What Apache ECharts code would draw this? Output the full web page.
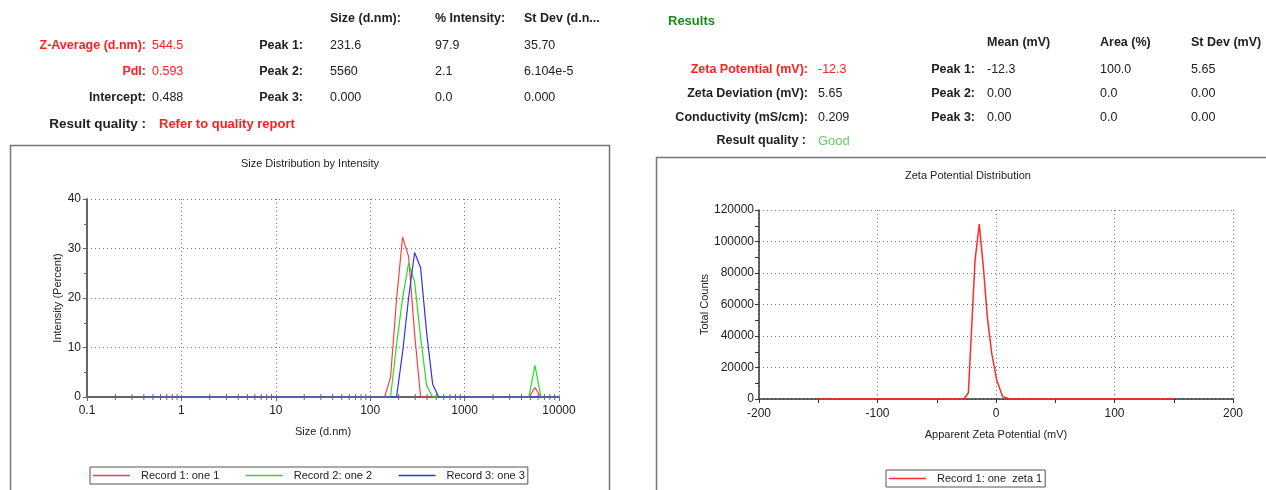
<!DOCTYPE html>
<html>
<head>
<meta charset="utf-8">
<script src="https://cdn.jsdelivr.net/npm/echarts@6/dist/echarts.min.js"></script>
<style>
html,body{margin:0;padding:0;background:#fff;}
#c{width:1266px;height:490px;}
</style>
</head>
<body>
<div id="c"></div>
<script>
// ---------- data ----------
var sizeTicksMinor = [0.2,0.3,0.4,0.5,0.6,0.7,0.8,0.9,2,3,4,5,6,7,8,9,20,30,40,50,60,70,80,90,200,300,400,500,600,700,800,900,2000,3000,4000,5000,6000,7000,8000,9000];
var record1 = [[0.4,0],[141.8,0],[164.2,3.9],[190.1,19.7],[220.2,32.3],[255,28.4],[295.3,12.8],[342,0],[4801,0],[5560,1.9],[6439,0],[10000,0]];
var record2 = [[0.4,0],[164.2,0],[190.1,10.5],[220.2,20],[255,27],[295.3,23.3],[342,12],[396.1,2.3],[458.7,0],[4801,0],[5560,6.4],[6439,0],[10000,0]];
var record3 = [[0.4,0],[190.1,0],[220.2,9],[255,20],[295.3,29.2],[342,26.1],[396.1,13],[458.7,2.6],[531.2,0],[10000,0]];
var zetaRecord = [[-150,0],[-27,0],[-23.3,4000],[-17.7,88000],[-14.1,111000],[-10.7,84000],[-7.3,52000],[-3.6,29000],[0.6,12000],[5.6,1500],[11.8,0],[150,0]];
var sizeNames = ['Record 1: one 1','Record 2: one 2','Record 3: one 3'];
var sizeColors = ['#ff4040','#22dd22','#3030ee'];
var zetaName = 'Record 1: one  zeta 1';
var zetaColor = '#ff2a2a';

// ---------- header tables ----------
var leftHeaders = ['Size (d.nm):','% Intensity:','St Dev (d.n...'];
var leftLabels = ['Z-Average (d.nm):','PdI:','Intercept:'];
var leftValues = ['544.5','0.593','0.488'];
var leftPeaks = ['Peak 1:','Peak 2:','Peak 3:'];
var leftPeakVals = [['231.6','97.9','35.70'],['5560','2.1','6.104e-5'],['0.000','0.0','0.000']];
var rightHeaders = ['Mean (mV)','Area (%)','St Dev (mV)'];
var rightLabels = ['Zeta Potential (mV):','Zeta Deviation (mV):','Conductivity (mS/cm):'];
var rightValues = ['-12.3','5.65','0.209'];
var rightPeaks = ['Peak 1:','Peak 2:','Peak 3:'];
var rightPeakVals = [['-12.3','100.0','5.65'],['0.00','0.0','0.00'],['0.00','0.0','0.00']];

var FONT = 'Liberation Sans, Arial, sans-serif';
var RED = '#ff2020', DARK = '#222';
var g = [];
function txt(t, x, y, o) {
  o = o || {};
  g.push({type:'text', z:10, style:{text:t, x:x, y:y, fill:o.fill||DARK, fontSize:o.size||12.5,
    fontWeight:o.bold?'bold':'normal', fontFamily:FONT, align:o.align||'left', verticalAlign:'middle'}});
}
// left table
var lcol = [330,435,524];
leftHeaders.forEach(function(h,i){ txt(h, lcol[i], 19, {bold:true}); });
var lrowY = [46,72,98];
leftLabels.forEach(function(l,i){
  var red = i < 2;
  txt(l, 146, lrowY[i], {bold:true, align:'right', fill:red?RED:DARK});
  txt(leftValues[i], 152, lrowY[i], {fill:red?RED:DARK});
  txt(leftPeaks[i], 303, lrowY[i], {bold:true, align:'right'});
  leftPeakVals[i].forEach(function(v,j){ txt(v, lcol[j], lrowY[i]); });
});
txt('Result quality :', 146, 124, {bold:true, align:'right', size:13.5});
txt('Refer to quality report', 159, 124, {bold:true, fill:RED, size:13});
// right table
txt('Results', 668, 21, {bold:true, fill:'#1a8a1a', size:13});
var rcol = [987,1100,1191];
rightHeaders.forEach(function(h,i){ txt(h, rcol[i], 43, {bold:true}); });
var rrowY = [70,94,118];
rightLabels.forEach(function(l,i){
  var red = i === 0;
  txt(l, 808, rrowY[i], {bold:true, align:'right', fill:red?RED:DARK});
  txt(rightValues[i], 818, rrowY[i], {fill:red?RED:DARK});
  txt(rightPeaks[i], 975, rrowY[i], {bold:true, align:'right'});
  rightPeakVals[i].forEach(function(v,j){ txt(v, rcol[j], rrowY[i]); });
});
txt('Result quality :', 806, 141, {bold:true, align:'right'});
txt('Good', 818, 141, {fill:'#66cc66', size:13});
// chart frames
g.push({type:'polyline', z:1, shape:{points:[[10.5,495],[10.5,145.5],[609.5,145.5],[609.5,495]]}, style:{stroke:'#777', lineWidth:1.5, fill:null}});
g.push({type:'polyline', z:1, shape:{points:[[656.5,495],[656.5,157.5],[1270,157.5]]}, style:{stroke:'#777', lineWidth:1.5, fill:null}});
// chart titles
txt('Size Distribution by Intensity', 310, 164, {size:11, align:'center', fill:'#222'});
txt('Zeta Potential Distribution', 968, 175.5, {size:11, align:'center', fill:'#222'});

var gridDot = {show:true, lineStyle:{color:'#777', width:1, type:[1,3]}};
var lblStyle = {color:'#222', fontSize:12, fontFamily:FONT};
function plain(v){ return String(+(+v).toPrecision(6)); }
var legendCommon = {orient:'horizontal', icon:'rect', itemWidth:37, itemHeight:1.5, itemGap:26.5,
  padding:[2,3,2,3], borderColor:'#555', borderWidth:1,
  textStyle:{fontSize:11, color:DARK, fontFamily:FONT, padding:[0,0,0,6], lineHeight:13}};

var option = {
  animation:false,
  textStyle:{fontFamily:FONT},
  graphic:g,
  grid:[
    {left:87, top:199, width:472, height:198, containLabel:false},
    {left:759, top:210, width:474, height:189, containLabel:false}
  ],
  legend:[
    Object.assign({left:90, top:467,
      data:sizeNames.map(function(n,i){ return {name:n, itemStyle:{color:sizeColors[i], opacity:1}}; })}, legendCommon),
    Object.assign({left:886, top:470,
      data:[{name:zetaName, itemStyle:{color:zetaColor, opacity:1}}]}, legendCommon)
  ],
  xAxis:[
    {type:'log', gridIndex:0, min:0.1, max:10000, logBase:10,
     name:'Size (d.nm)', nameLocation:'middle', nameGap:29, nameTextStyle:{fontSize:11, color:DARK, fontFamily:FONT},
     axisLine:{onZero:false, lineStyle:{color:'#666', width:2}}, axisTick:{show:true, length:4, lineStyle:{color:'#666'}},
     axisLabel:Object.assign({margin:8, formatter:plain}, lblStyle), splitLine:gridDot},
    {type:'value', gridIndex:1, min:-200, max:200, interval:100,
     name:'Apparent Zeta Potential (mV)', nameLocation:'middle', nameGap:30, nameTextStyle:{fontSize:11, color:DARK, fontFamily:FONT},
     axisLine:{onZero:false, lineStyle:{color:'#333', width:1.5}}, axisTick:{show:true, length:4, lineStyle:{color:'#333'}},
     minorTick:{show:true, splitNumber:2, length:4, lineStyle:{color:'#333'}},
     axisLabel:Object.assign({margin:9, formatter:plain}, lblStyle), splitLine:gridDot}
  ],
  yAxis:[
    {type:'value', gridIndex:0, min:0, max:40, interval:10,
     name:'Intensity (Percent)', nameLocation:'middle', nameGap:23, nameTextStyle:{fontSize:11, color:DARK, fontFamily:FONT},
     axisLine:{show:true, onZero:false, lineStyle:{color:'#666', width:2}}, axisTick:{show:true, length:4, lineStyle:{color:'#666'}},
     minorTick:{show:true, splitNumber:2, length:3, lineStyle:{color:'#666'}},
     axisLabel:Object.assign({margin:6, formatter:plain}, lblStyle), splitLine:gridDot},
    {type:'value', gridIndex:1, min:0, max:120000, interval:20000,
     name:'Total Counts', nameLocation:'middle', nameGap:47, nameTextStyle:{fontSize:11, color:DARK, fontFamily:FONT},
     axisLine:{show:true, onZero:false, lineStyle:{color:'#333', width:1.5}}, axisTick:{show:true, length:4, lineStyle:{color:'#333'}},
     minorTick:{show:true, splitNumber:2, length:4, lineStyle:{color:'#333'}},
     axisLabel:Object.assign({margin:5, formatter:plain}, lblStyle), splitLine:gridDot}
  ],
  series:[
    {type:'custom', xAxisIndex:0, yAxisIndex:0, silent:true, clip:false, z:3,
     data:sizeTicksMinor.map(function(v){return [v,0];}), encode:{x:0,y:1},
     renderItem:function(params, api){
       var p = api.coord([api.value(0), 0]);
       return {type:'line', shape:{x1:p[0], y1:p[1]-3, x2:p[0], y2:p[1]+3}, style:{stroke:'#666', lineWidth:1}};
     }},
    {name:sizeNames[0], type:'line', xAxisIndex:0, yAxisIndex:0, data:record1, symbol:'none', z:4,
     color:sizeColors[0], lineStyle:{color:sizeColors[0], width:1.2}, itemStyle:{color:sizeColors[0]}},
    {name:sizeNames[1], type:'line', xAxisIndex:0, yAxisIndex:0, data:record2, symbol:'none', z:4,
     color:sizeColors[1], lineStyle:{color:sizeColors[1], width:1.2}, itemStyle:{color:sizeColors[1]}},
    {name:sizeNames[2], type:'line', xAxisIndex:0, yAxisIndex:0, data:record3, symbol:'none', z:4,
     color:sizeColors[2], lineStyle:{color:sizeColors[2], width:1.2}, itemStyle:{color:sizeColors[2]}},
    {name:zetaName, type:'line', xAxisIndex:1, yAxisIndex:1, data:zetaRecord, symbol:'none', z:4,
     color:zetaColor, lineStyle:{color:zetaColor, width:1.5}, itemStyle:{color:zetaColor}}
  ]
};
var chart = echarts.init(document.getElementById('c'));
chart.setOption(option);
</script>
</body>
</html>
